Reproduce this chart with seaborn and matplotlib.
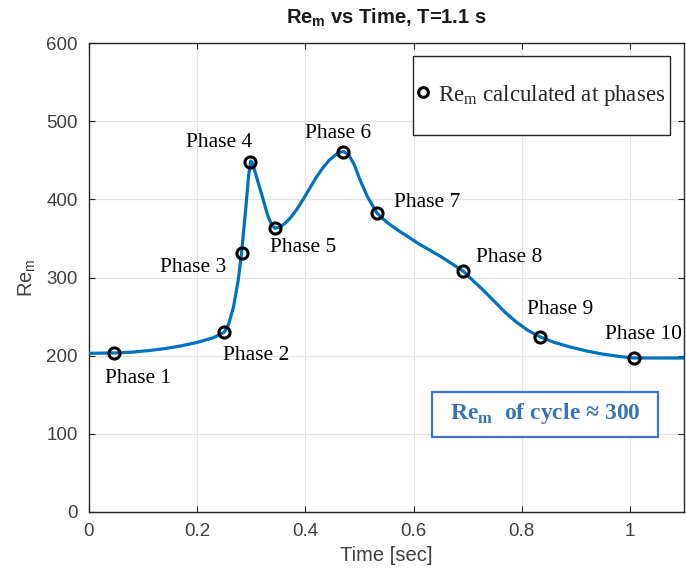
import matplotlib
matplotlib.use("Agg")
import matplotlib.pyplot as plt
import matplotlib.patches as mpatches
from matplotlib.lines import Line2D
import seaborn as sns
import pandas as pd

# ---- data ----
t_curve = [0.00, 0.05, 0.08, 0.11, 0.14, 0.17, 0.20, 0.23, 0.25, 0.258, 0.267,
           0.276, 0.282, 0.290, 0.295, 0.299, 0.302, 0.307, 0.319, 0.331, 0.338,
           0.344, 0.352, 0.362, 0.372, 0.384, 0.396, 0.408, 0.420, 0.432, 0.444,
           0.456, 0.465, 0.471, 0.480, 0.490, 0.501, 0.515, 0.533, 0.550, 0.570,
           0.590, 0.610, 0.630, 0.650, 0.670, 0.692, 0.710, 0.730, 0.750, 0.770,
           0.790, 0.810, 0.834, 0.860, 0.890, 0.920, 0.950, 0.980, 1.008, 1.050,
           1.100]
re_curve = [203, 203.5, 204.5, 206.5, 209, 212.5, 217, 223, 230, 240, 262,
            297, 331, 390, 430, 449, 447, 435, 407, 378, 367,
            363, 364.5, 369, 376, 387, 400, 414, 428, 440, 450,
            457, 460.5, 461, 457, 445, 425, 403, 382, 371, 361,
            352, 343, 335, 327, 318, 308, 296, 283, 269, 255,
            243, 233, 224, 217, 211, 206, 202, 199, 197, 197,
            197]

phase_t = [0.046, 0.250, 0.282, 0.298, 0.344, 0.470, 0.533, 0.692, 0.834, 1.008]
phase_re = [203, 230, 331, 448, 363, 461, 382, 308, 224, 197]
phase_labels = [f"Phase {i}" for i in range(1, 11)]

# label offsets in pixels (dx, dy) relative to each marker
label_offsets = [(24, -25), (32, -23), (-48, -14), (-31, 19), (28, -19),
                 (-5, 18), (50, 11), (46, 14), (20, 27), (9, 24)]

x_ticks = [0, 0.2, 0.4, 0.6, 0.8, 1]
x_ticklabels = ["0", "0.2", "0.4", "0.6", "0.8", "1"]
y_ticks = [0, 100, 200, 300, 400, 500, 600]

sns.set_style("white")
plt.rcParams["font.family"] = ["Liberation Sans", "DejaVu Sans"]

curve_df = pd.DataFrame({"t": t_curve, "re": re_curve})
phase_df = pd.DataFrame({"t": phase_t, "re": phase_re})

fig = plt.figure(figsize=(6.86, 5.74), dpi=100)
ax = fig.add_axes([89 / 686, 62 / 574, 595 / 686, 469 / 574])

blue = "#0072BD"
sns.lineplot(data=curve_df, x="t", y="re", ax=ax, color=blue, linewidth=2.3,
             sort=False, estimator=None, zorder=3)
sns.lineplot(data=phase_df, x="t", y="re", ax=ax, linestyle="none", marker="o",
             markersize=8, markerfacecolor="none", markeredgecolor="black",
             markeredgewidth=2.2, sort=False, estimator=None, zorder=4)

serif = ["Liberation Serif", "DejaVu Serif"]
for (tx, ty, lab, off) in zip(phase_t, phase_re, phase_labels, label_offsets):
    ax.annotate(lab, xy=(tx, ty), xytext=off, textcoords="offset pixels",
                ha="center", va="center", fontsize=15.5, family=serif,
                color="black", zorder=5)

ax.set_xlim(0, 1.1)
ax.set_ylim(0, 600)
ax.set_xticks(x_ticks)
ax.set_xticklabels(x_ticklabels)
ax.set_yticks(y_ticks)
ax.grid(True, color="#e3e3e3", linewidth=0.9)
ax.set_axisbelow(True)
for s in ax.spines.values():
    s.set_color("#262626")
    s.set_linewidth(1.0)
ax.tick_params(direction="in", length=4, width=0.8, colors="#262626",
               labelcolor="#404040", labelsize=13.5, top=True, right=True,
               bottom=True, left=True, pad=8)

ax.set_xlabel("Time [sec]", fontsize=14.5, color="#404040", labelpad=4)
ax.set_ylabel(r"Re$_\mathregular{m}$", fontsize=14.5, color="#404040", labelpad=6)
ax.set_title(r"Re$_\mathregular{m}$ vs Time, T=1.1 s", fontsize=14.5,
             fontweight="bold", color="#1a1a1a", pad=14)

# legend with custom rectangular frame
frame = mpatches.Rectangle(((413 - 89) / 595, (512 - 135) / 469),
                           257 / 595, 79 / 469, transform=ax.transAxes,
                           facecolor="white", edgecolor="#262626",
                           linewidth=1.0, zorder=6)
ax.add_patch(frame)
handle = Line2D([], [], linestyle="none", marker="o", markersize=7,
                markerfacecolor="none", markeredgecolor="black",
                markeredgewidth=2.2)
leg = ax.legend([handle], [r"Re$_\mathregular{m}$ calculated at phases"],
                loc="center left",
                bbox_to_anchor=((415 - 89) / 595, (512 - 95) / 469),
                frameon=False, borderpad=0, borderaxespad=0,
                handlelength=0.7, handletextpad=0.3,
                prop={"family": serif, "size": 16.5})
leg.set_zorder(7)

# cycle-average box
box = mpatches.Rectangle(((432 - 89) / 595, (512 - 437) / 469),
                         226 / 595, 45 / 469, transform=ax.transAxes,
                         facecolor="white", edgecolor="#4472C4",
                         linewidth=1.6, zorder=6)
ax.add_patch(box)
ax.text((545 - 89) / 595, (512 - 414) / 469,
        r"Re$_\mathregular{m}$  of cycle ≈ 300", transform=ax.transAxes,
        ha="center", va="center", fontsize=17, fontweight="bold",
        color="#3A74B8", family=serif, zorder=7)

fig.savefig("out.png", dpi=100)
